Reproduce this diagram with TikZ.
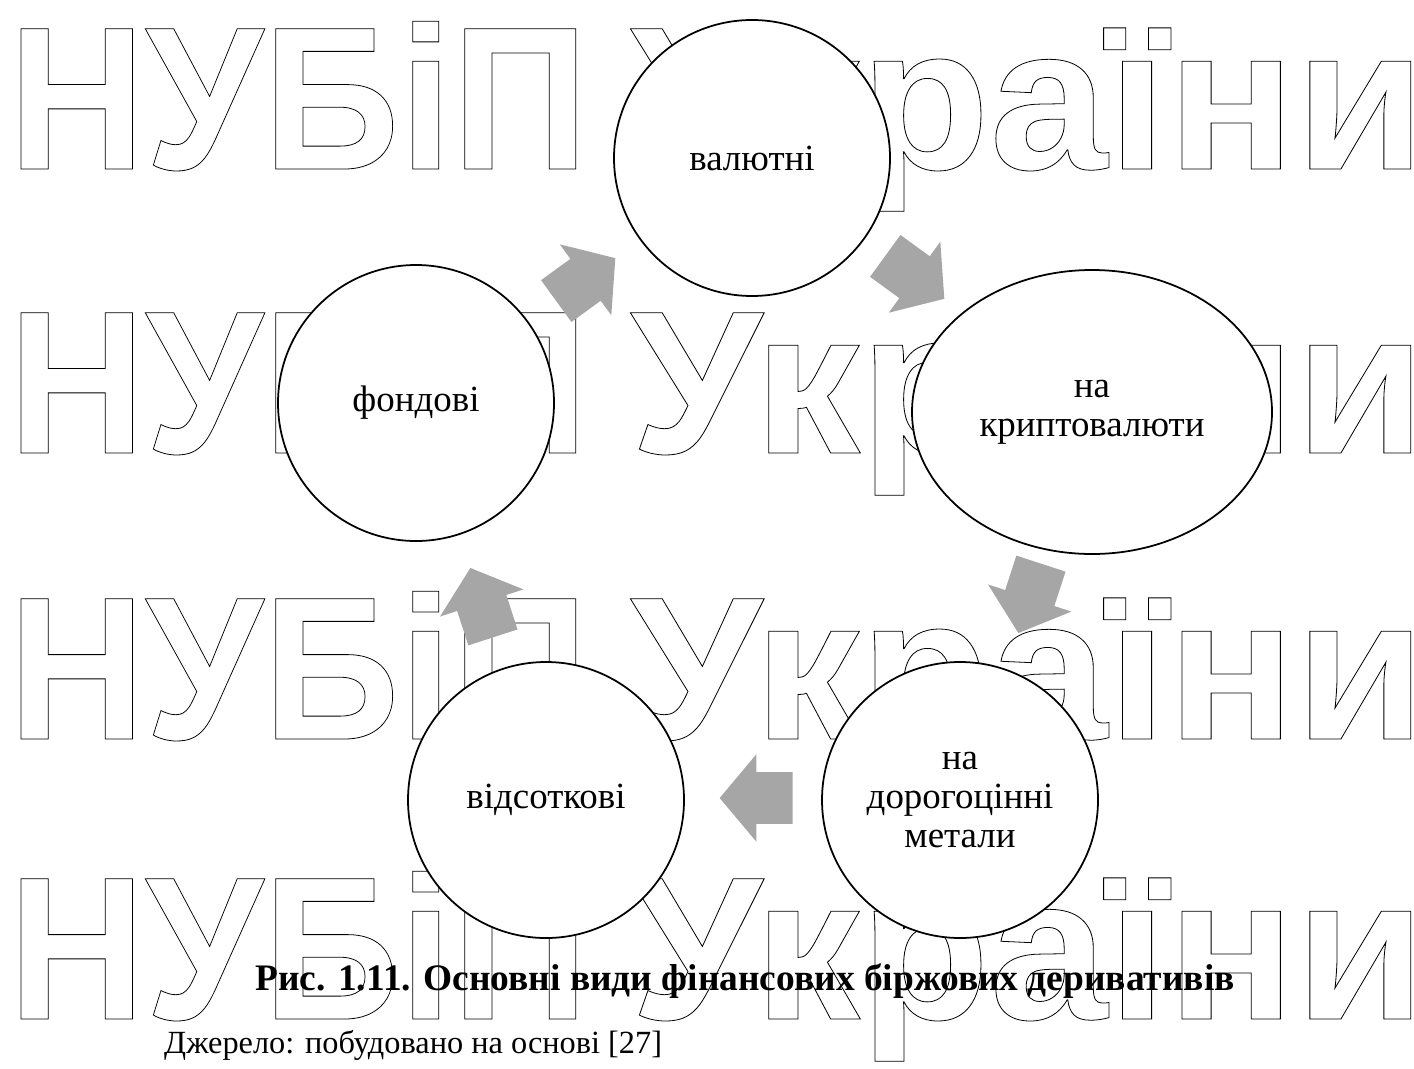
\documentclass[tikz,border=0pt]{standalone}
\usepackage{fontspec}
\setmainfont{Liberation Serif}
\newfontfamily\markfont{Liberation Sans}
\usetikzlibrary{shapes.arrows,shapes.geometric,positioning}
\definecolor{arrowgray}{HTML}{A6A6A6}
\newcommand{\outlinetext}[1]{\special{pdf:literal direct 1 Tr 0.45 w}#1\special{pdf:literal direct 0 Tr}}

\begin{document}
\begin{tikzpicture}[x=0.2mm,y=-0.2mm,
  every node/.style={font=\fontsize{21}{22}\selectfont},
  kind/.style={circle,draw,fill=white,line width=1pt,minimum size=55.2mm,align=center,inner sep=0pt},
  widekind/.style={ellipse,draw,fill=white,line width=1pt,minimum width=72mm,minimum height=56.8mm,align=center,inner sep=0pt},
  cyclearrow/.style={single arrow,fill=arrowgray,draw=none,minimum height=14.6mm,
    inner xsep=0pt,inner ysep=5.1mm,single arrow head extend=3.6mm,single arrow tip angle=100},
  watermark/.style={inner sep=0pt,transform shape,
    font=\markfont\bfseries\fontsize{116}{116}\selectfont}]
\useasboundingbox (0,0) rectangle (1414,1068);
% watermark rows
\foreach \y [count=\i] in {169,453,739,1019}{
  \node[watermark,anchor=base west,xscale=0.93] (wma\i) at (8,\y) {\outlinetext{НУБіП}};
  \node[watermark,anchor=base east,xscale=1.04] (wmb\i) at (1426,\y) {\outlinetext{України}};
}
% kinds of derivatives
\node[kind] (valut) at (752,158) {валютні};
\node[widekind] (crypto) at (1092,412) {на\\криптовалюти};
\node[kind] (metal) at (960,800) {на\\дорогоцінні\\метали};
\node[kind] (percent) at (546,800) {відсоткові};
\node[kind] (stock) at (416,403) {фондові};
% cycle arrows
\node[cyclearrow,rotate=36] (a1) at (577,286) {};
\node[cyclearrow,rotate=-36] (a2) at (906,271) {};
\node[cyclearrow,rotate=-108] (a3) at (1033,588) {};
\node[cyclearrow,rotate=180] (a4) at (767,798) {};
\node[cyclearrow,rotate=108] (a5) at (485,613) {};
% caption
\node[anchor=base,font=\fontsize{21.3}{22}\selectfont\bfseries] (title) at (745,990)
  {Рис. 1.11. Основні види фінансових біржових деривативів};
\node[anchor=base west,font=\fontsize{18.4}{20}\selectfont] (source) at (158,1053)
  {Джерело: побудовано на основі [27]};
\end{tikzpicture}
\end{document}
